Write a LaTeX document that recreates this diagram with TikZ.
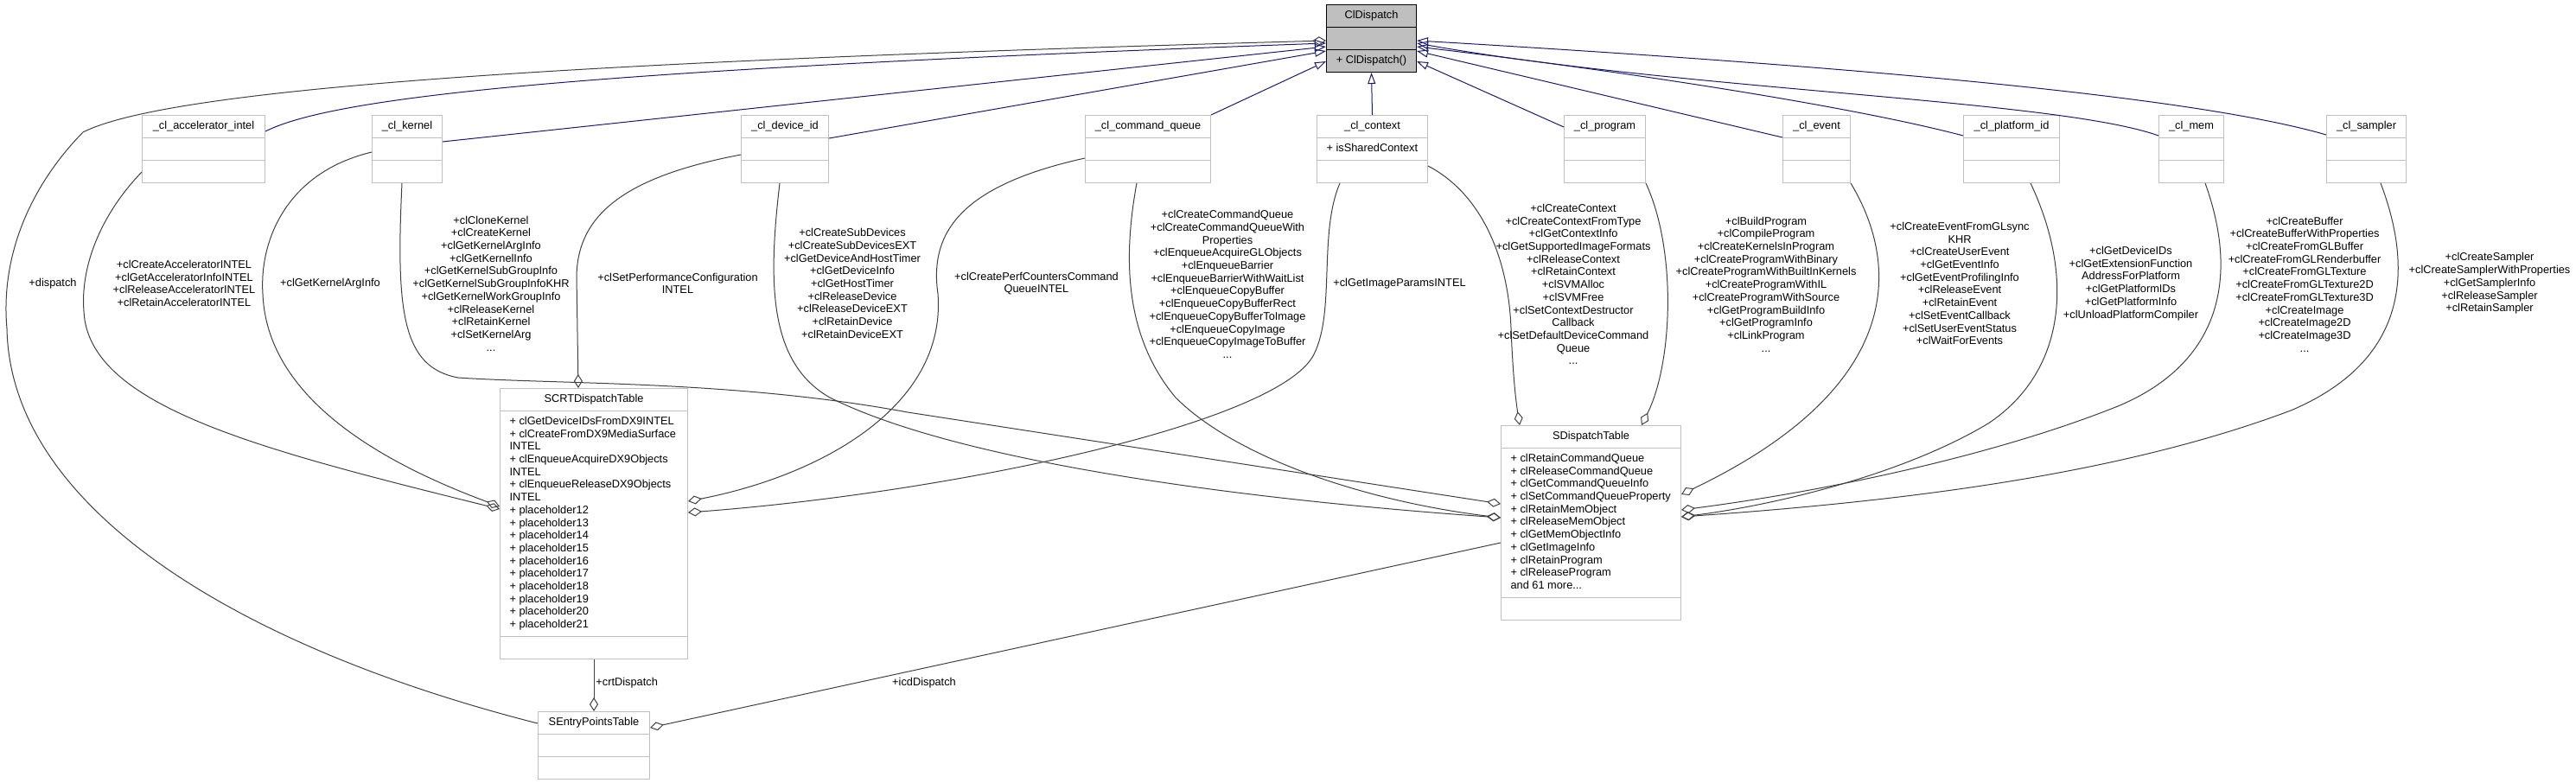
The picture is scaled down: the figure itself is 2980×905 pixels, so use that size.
\documentclass[tikz,border=0pt]{standalone}
\usepackage{fontspec}
\setmainfont{Liberation Sans}
\usepackage{xcolor}
\usepackage{tikz}
\usetikzlibrary{arrows.meta, shapes.multipart}

\definecolor{inhblue}{HTML}{191970}
\definecolor{aggrey}{HTML}{404040}
\definecolor{boxgrey}{HTML}{BFBFBF}

\newcommand{\members}[1]{\begin{tabular}{@{}l@{}}#1\end{tabular}}

\begin{document}
\begin{tikzpicture}[x=0.5pt, y=-0.5pt,
    every node/.style={font=\fontsize{6.4}{7.35}\selectfont},
    cls/.style={rectangle split, rectangle split parts=3, rectangle split part align={center,left,center},
      draw=boxgrey, fill=white, line width=0.5pt, inner xsep=5.5pt, inner ysep=2.575pt, anchor=north west},
    root/.style={cls, draw=black, fill=boxgrey},
    lbl/.style={align=center, inner sep=0pt},
    inh/.style={draw=inhblue, line width=0.5pt, -{Triangle[open, length=6.5pt, width=4.5pt]}},
    agg/.style={draw=aggrey, line width=0.5pt, -{Diamond[open, length=8pt, width=5pt]}}]
  \useasboundingbox (0,0) rectangle (2980,905);

  \node[root, minimum width=52pt] (cld) at (1534,5) {\strut ClDispatch \nodepart{second} \strut \nodepart{third} \strut + ClDispatch()};
  \node[cls, minimum width=71pt] (acc) at (164,133) {\strut\_cl\_accelerator\_intel \nodepart{second} \strut \nodepart{third} \strut};
  \node[cls, minimum width=40.5pt] (krn) at (430,133) {\strut\_cl\_kernel \nodepart{second} \strut \nodepart{third} \strut};
  \node[cls, minimum width=50.5pt] (dev) at (857,133) {\strut\_cl\_device\_id \nodepart{second} \strut \nodepart{third} \strut};
  \node[cls, minimum width=72.5pt] (cq) at (1255,133) {\strut\_cl\_command\_queue \nodepart{second} \strut \nodepart{third} \strut};
  \node[cls, minimum width=64pt] (ctx) at (1523,133) {\strut\_cl\_context \nodepart{second} \strut + isSharedContext \nodepart{third} \strut};
  \node[cls, minimum width=47pt] (prg) at (1809,133) {\strut\_cl\_program \nodepart{second} \strut \nodepart{third} \strut};
  \node[cls, minimum width=39pt] (evt) at (2062,133) {\strut\_cl\_event \nodepart{second} \strut \nodepart{third} \strut};
  \node[cls, minimum width=55.5pt] (plt) at (2271,133) {\strut\_cl\_platform\_id \nodepart{second} \strut \nodepart{third} \strut};
  \node[cls, minimum width=37.5pt] (mem) at (2497,133) {\strut\_cl\_mem \nodepart{second} \strut \nodepart{third} \strut};
  \node[cls, minimum width=46pt] (smp) at (2691,133) {\strut\_cl\_sampler \nodepart{second} \strut \nodepart{third} \strut};
  \node[cls, minimum width=108.5pt] (crt) at (578,449) {\strut SCRTDispatchTable
    \nodepart{second} \members{+ clGetDeviceIDsFromDX9INTEL\\+ clCreateFromDX9MediaSurface\\INTEL\\+ clEnqueueAcquireDX9Objects\\INTEL\\+ clEnqueueReleaseDX9Objects\\INTEL\\+ placeholder12\\+ placeholder13\\+ placeholder14\\+ placeholder15\\+ placeholder16\\+ placeholder17\\+ placeholder18\\+ placeholder19\\+ placeholder20\\+ placeholder21}
    \nodepart{third} \strut};
  \node[cls, minimum width=104pt] (sdt) at (1736,492) {\strut SDispatchTable
    \nodepart{second} \members{+ clRetainCommandQueue\\+ clReleaseCommandQueue\\+ clGetCommandQueueInfo\\+ clSetCommandQueueProperty\\+ clRetainMemObject\\+ clReleaseMemObject\\+ clGetMemObjectInfo\\+ clGetImageInfo\\+ clRetainProgram\\+ clReleaseProgram\\and 61 more...}
    \nodepart{third} \strut};
  \node[cls, minimum width=64.5pt] (ept) at (622,823) {\strut SEntryPointsTable \nodepart{second} \strut \nodepart{third} \strut};

  \draw[inh] ([shift={(0,19)}]acc.north east) .. controls (390,110) and (700,80) .. ([shift={(0,45)}]cld.north west);
  \draw[inh] ([shift={(0,31)}]krn.north east) -- ([shift={(0,49)}]cld.north west);
  \draw[inh] ([shift={(0,27)}]dev.north east) -- ([shift={(0,54)}]cld.north west);
  \draw[inh] (cq.north east) -- ([shift={(0,66)}]cld.north west);
  \draw[inh] (ctx.north) -- (cld.south);
  \draw[inh] ([shift={(0,14)}]prg.north west) -- ([shift={(0,66)}]cld.north east);
  \draw[inh] ([shift={(0,26)}]evt.north west) -- ([shift={(0,54)}]cld.north east);
  \draw[inh] ([shift={(0,24)}]plt.north west) .. controls (2150,125) and (1900,85) .. ([shift={(0,49)}]cld.north east);
  \draw[inh] ([shift={(0,24)}]mem.north west) .. controls (2380,115) and (1950,105) .. ([shift={(0,45)}]cld.north east);
  \draw[inh] ([shift={(0,23)}]smp.north west) .. controls (2550,115) and (2200,80) .. ([shift={(0,42)}]cld.north east);

  \draw[agg] ([shift={(0,14)}]ept.north west) .. controls (280,750) and (12,590) .. (8,380)
    .. controls (0,290) and (40,210) .. (96,153) .. controls (200,100) and (700,70) .. ([shift={(0,42)}]cld.north west);
  \draw[agg] ([shift={(0,66)}]acc.north west) .. controls (115,250) and (93,310) .. (97,360)
    .. controls (102,470) and (300,520) .. ([shift={(0,140)}]crt.north west);
  \draw[agg] ([shift={(0,43)}]krn.north west) .. controls (330,200) and (300,280) .. (304,340)
    .. controls (308,440) and (400,520) .. ([shift={(0,137)}]crt.north west);
  \draw[agg] ([shift={(0,46)}]dev.north west) .. controls (720,205) and (668,250) .. (667,320)
    -- ([shift={(91,0)}]crt.north west);
  \draw[agg] ([shift={(0,50)}]cq.north west) .. controls (1110,215) and (1075,270) .. (1085,340)
    .. controls (1095,470) and (950,550) .. ([shift={(0,131)}]crt.north east);
  \draw[agg] ([shift={(27,0)}]ctx.south west) .. controls (1525,270) and (1545,360) .. (1520,410)
    .. controls (1480,490) and (1100,570) .. ([shift={(0,144)}]crt.north east);
  \draw[agg] ([shift={(35,0)}]krn.south west) .. controls (458,360) and (465,425) .. (530,437)
    .. controls (650,445) and (850,440) .. (1050,477) -- ([shift={(0,91)}]sdt.north west);
  \draw[agg] ([shift={(45,0)}]dev.south west) .. controls (888,330) and (890,420) .. (960,460)
    .. controls (1100,530) and (1400,575) .. ([shift={(0,107)}]sdt.north west);
  \draw[agg] ([shift={(60,0)}]cq.south west) .. controls (1295,320) and (1310,400) .. (1360,460)
    .. controls (1430,530) and (1580,580) .. ([shift={(0,107)}]sdt.north west);
  \draw[agg] ([shift={(0,59)}]ctx.north east) .. controls (1715,225) and (1745,300) .. (1748,380)
    .. controls (1750,430) and (1753,460) .. ([shift={(22,0)}]sdt.north west);
  \draw[agg] (prg.south east) .. controls (1940,290) and (1935,420) .. ([shift={(163,0)}]sdt.north west);
  \draw[agg] (evt.south east) .. controls (2200,310) and (2200,450) .. ([shift={(0,80)}]sdt.north east);
  \draw[agg] ([shift={(78,0)}]plt.south west) .. controls (2400,320) and (2390,430) .. (2300,490)
    .. controls (2200,550) and (2050,585) .. ([shift={(0,106)}]sdt.north east);
  \draw[agg] ([shift={(54,0)}]mem.south west) .. controls (2590,320) and (2570,420) .. (2450,470)
    .. controls (2300,530) and (2100,570) .. ([shift={(0,98)}]sdt.north east);
  \draw[agg] ([shift={(63,0)}]smp.south west) .. controls (2795,320) and (2780,420) .. (2650,475)
    .. controls (2450,550) and (2200,580) .. ([shift={(0,106)}]sdt.north east);
  \draw[agg] (crt.south) -- (ept.north);
  \draw[agg] ([shift={(0,136)}]sdt.north west) -- ([shift={(0,19)}]ept.north east);

  \node[lbl] (lDispatch) at (61,328) {+dispatch};
  \node[lbl] (lAcc) at (213,328) {+clCreateAcceleratorINTEL\\+clGetAcceleratorInfoINTEL\\+clReleaseAcceleratorINTEL\\+clRetainAcceleratorINTEL};
  \node[lbl] (lKrnArg) at (382,328) {+clGetKernelArgInfo};
  \node[lbl] (lKrn) at (568,328) {+clCloneKernel\\+clCreateKernel\\+clGetKernelArgInfo\\+clGetKernelInfo\\+clGetKernelSubGroupInfo\\+clGetKernelSubGroupInfoKHR\\+clGetKernelWorkGroupInfo\\+clReleaseKernel\\+clRetainKernel\\+clSetKernelArg\\...};
  \node[lbl] (lPerf) at (784,328) {+clSetPerformanceConfiguration\\INTEL};
  \node[lbl] (lDev) at (986,328) {+clCreateSubDevices\\+clCreateSubDevicesEXT\\+clGetDeviceAndHostTimer\\+clGetDeviceInfo\\+clGetHostTimer\\+clReleaseDevice\\+clReleaseDeviceEXT\\+clRetainDevice\\+clRetainDeviceEXT};
  \node[lbl] (lPerfCq) at (1199,328) {+clCreatePerfCountersCommand\\QueueINTEL};
  \node[lbl] (lCq) at (1420,329) {+clCreateCommandQueue\\+clCreateCommandQueueWith\\Properties\\+clEnqueueAcquireGLObjects\\+clEnqueueBarrier\\+clEnqueueBarrierWithWaitList\\+clEnqueueCopyBuffer\\+clEnqueueCopyBufferRect\\+clEnqueueCopyBufferToImage\\+clEnqueueCopyImage\\+clEnqueueCopyImageToBuffer\\...};
  \node[lbl] (lImg) at (1619,328) {+clGetImageParamsINTEL};
  \node[lbl] (lCtx) at (1820,329) {+clCreateContext\\+clCreateContextFromType\\+clGetContextInfo\\+clGetSupportedImageFormats\\+clReleaseContext\\+clRetainContext\\+clSVMAlloc\\+clSVMFree\\+clSetContextDestructor\\Callback\\+clSetDefaultDeviceCommand\\Queue\\...};
  \node[lbl] (lPrg) at (2043,329) {+clBuildProgram\\+clCompileProgram\\+clCreateKernelsInProgram\\+clCreateProgramWithBinary\\+clCreateProgramWithBuiltInKernels\\+clCreateProgramWithIL\\+clCreateProgramWithSource\\+clGetProgramBuildInfo\\+clGetProgramInfo\\+clLinkProgram\\...};
  \node[lbl] (lEvt) at (2267,328) {+clCreateEventFromGLsync\\KHR\\+clCreateUserEvent\\+clGetEventInfo\\+clGetEventProfilingInfo\\+clReleaseEvent\\+clRetainEvent\\+clSetEventCallback\\+clSetUserEventStatus\\+clWaitForEvents};
  \node[lbl] (lPlt) at (2465,328) {+clGetDeviceIDs\\+clGetExtensionFunction\\AddressForPlatform\\+clGetPlatformIDs\\+clGetPlatformInfo\\+clUnloadPlatformCompiler};
  \node[lbl] (lMem) at (2666,329) {+clCreateBuffer\\+clCreateBufferWithProperties\\+clCreateFromGLBuffer\\+clCreateFromGLRenderbuffer\\+clCreateFromGLTexture\\+clCreateFromGLTexture2D\\+clCreateFromGLTexture3D\\+clCreateImage\\+clCreateImage2D\\+clCreateImage3D\\...};
  \node[lbl] (lSmp) at (2880,328) {+clCreateSampler\\+clCreateSamplerWithProperties\\+clGetSamplerInfo\\+clReleaseSampler\\+clRetainSampler};
  \node[lbl, anchor=west] (lCrt) at (689,790) {+crtDispatch};
  \node[lbl] (lIcd) at (1069,790) {+icdDispatch};
\end{tikzpicture}
\end{document}
